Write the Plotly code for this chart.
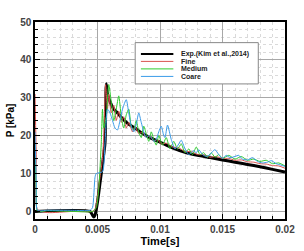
import plotly.graph_objects as go

# ---- data ----
exp_t = [0, 0.0044, 0.0046, 0.0047, 0.0048, 0.0050, 0.0052, 0.0054, 0.0056, 0.0057, 0.0058, 0.0060,
         0.0063, 0.0066, 0.0070, 0.0075, 0.0080, 0.0085, 0.0090, 0.0095, 0.0100, 0.0110, 0.0120,
         0.0130, 0.0140, 0.0150, 0.0160, 0.0170, 0.0180, 0.0190, 0.0200]
exp_p = [0, 0, -1.0, -1.5, -1.0, 2.5, 7.5, 12.5, 18, 33.7, 31, 29,
         27, 26, 24.5, 23, 22, 20.8, 19.8, 19, 18.3, 16.8, 15.6,
         14.8, 14.2, 13.6, 13.0, 12.4, 11.8, 11.1, 10.4]

fine_t = [0, 0.0001, 0.0002, 0.0010, 0.0030, 0.0046, 0.0048, 0.0050, 0.0052, 0.0054, 0.0055, 0.0056,
          0.00565, 0.0058, 0.0059, 0.0061, 0.0063, 0.0065, 0.0067, 0.0069, 0.0071, 0.0073, 0.0075,
          0.0078, 0.0080, 0.0083, 0.0086, 0.0089, 0.0092, 0.0095, 0.0098, 0.0101, 0.0105, 0.0110,
          0.0115, 0.0120, 0.0125, 0.0130, 0.0135, 0.0140, 0.0145, 0.0150, 0.0155, 0.0160, 0.0165,
          0.0170, 0.0175, 0.0180, 0.0185, 0.0190, 0.0195, 0.0200]
fine_p = [31, 15, 0.5, -0.3, 0, 0, 0.5, 4, 9, 14, 20, 30,
          33.5, 27, 31, 26, 28, 24, 26.5, 23.5, 25, 22, 23.5,
          21, 22.5, 20.5, 21, 19.5, 20, 18.5, 19, 17.8, 18, 17,
          16.8, 15.8, 15.8, 15, 15, 14.3, 14.5, 14, 14, 13.5, 13.6,
          13.1, 13, 12.6, 12.5, 12.1, 12, 11.4]

med_t = [0, 0.0001, 0.0002, 0.0010, 0.0030, 0.0046, 0.0049, 0.0051, 0.0053, 0.0054, 0.0055, 0.0057,
         0.0059, 0.0061, 0.0063, 0.0065, 0.0067, 0.0069, 0.0071, 0.0073, 0.0075, 0.0077, 0.0079,
         0.0081, 0.0083, 0.0085, 0.0087, 0.0089, 0.0091, 0.0093, 0.0095, 0.0097, 0.0099, 0.0102,
         0.0105, 0.0108, 0.0111, 0.0114, 0.0117, 0.0120, 0.0123, 0.0126, 0.0129, 0.0132, 0.0135,
         0.0138, 0.0141, 0.0144, 0.0147, 0.0150, 0.0155, 0.0160, 0.0165, 0.0170, 0.0175, 0.0180,
         0.0185, 0.0190, 0.0195, 0.0200]
med_p = [18, 5, 0, 0.2, 0, 0, 1, 6, 18, 27, 22, 25,
         33.5, 29, 24, 27, 30.5, 25, 22, 25.5, 27, 22.5, 21.5,
         24, 21, 19.5, 22.5, 20.5, 18.5, 21, 19, 17.5, 20, 17.5,
         19.5, 16.5, 18.5, 16.5, 17.8, 15.5, 16.5, 15, 17, 15, 15.5,
         14.3, 15.5, 14.3, 15, 14, 14.8, 13.8, 14.5, 13.5, 13.8, 13.2,
         13.5, 12.6, 12.8, 12.0]

coarse_t = [0, 0.0001, 0.0002, 0.0010, 0.0030, 0.0044, 0.0046, 0.0048, 0.0049, 0.0054, 0.0056, 0.0058,
            0.0060, 0.0062, 0.0064, 0.0066, 0.0068, 0.0070, 0.0073, 0.0075, 0.0077, 0.0079, 0.0081,
            0.0083, 0.0085, 0.0087, 0.0089, 0.0091, 0.0093, 0.0095, 0.0097, 0.0099, 0.0101, 0.0103,
            0.0104, 0.0106, 0.0109, 0.0112, 0.0115, 0.0117, 0.0120, 0.0123, 0.0125, 0.0127, 0.0129,
            0.0131, 0.0134, 0.0137, 0.0140, 0.0142, 0.0144, 0.0147, 0.0150, 0.0153, 0.0156, 0.0160,
            0.0163, 0.0166, 0.0170, 0.0174, 0.0178, 0.0182, 0.0186, 0.0189, 0.0193, 0.0197, 0.0200]
coarse_p = [21, 8, 0.3, 0.3, 0.3, 0.3, 1, 9, 10, 10.5, 18, 27,
            26, 24, 22, 21.5, 24, 27, 29.5, 26, 22.5, 21, 23,
            26, 23.5, 21, 19.5, 20, 19.5, 18.5, 19, 21, 22.5, 20,
            19.5, 22.8, 19, 16.5, 17.8, 18.8, 16.5, 15, 15.5, 16, 15.5,
            16.3, 15, 14.5, 15, 15.8, 16.3, 15, 14, 14.8, 14.2, 14.5,
            14.8, 13.8, 13.6, 14.2, 13.2, 12.8, 13, 13.4, 12.6, 12.2, 11.9]

x_ticks = [0, 0.005, 0.01, 0.015, 0.02]
x_tick_labels = ["0", "0.005", "0.01", "0.015", "0.02"]
y_ticks = [0, 10, 20, 30, 40, 50]
series_names = ["Exp.(Kim et al.,2014)", "Fine", "Medium", "Coare"]
series_colors = ["#000000", "#d9534f", "#2ecc2e", "#3a9be8"]
series_widths = [3, 1, 1, 1]

fig = go.Figure()
for t, p, name, c, w in zip([exp_t, fine_t, med_t, coarse_t], [exp_p, fine_p, med_p, coarse_p],
                            series_names, series_colors, series_widths):
    fig.add_trace(go.Scatter(x=t, y=p, mode="lines", name=name,
                             line=dict(color=c, width=w, shape="spline", smoothing=0.6)))

tickfont = dict(family="Liberation Sans, Arial", size=10, color="#444", weight="bold")
axis_common = dict(
    showline=True, linecolor="black", linewidth=1.5, mirror=True,
    ticks="inside", ticklen=5, tickcolor="black", tickwidth=1,
    showgrid=True, gridcolor="#a8a8a8", gridwidth=1, zeroline=False,
    tickfont=tickfont,
)

fig.update_xaxes(range=[0, 0.02], tickvals=x_ticks, ticktext=x_tick_labels,
                 minor=dict(dtick=0.001, showgrid=True, griddash="dot", gridcolor="#dadada",
                            ticks="inside", ticklen=3, tickcolor="black"),
                 title=dict(text="Time[s]", standoff=0,
                            font=dict(family="Liberation Sans, Arial", size=11, color="black", weight="bold")),
                 **axis_common)
fig.update_yaxes(range=[-2, 50], tickvals=y_ticks,
                 minor=dict(dtick=2, showgrid=True, griddash="dot", gridcolor="#dadada",
                            ticks="inside", ticklen=3, tickcolor="black"),
                 title=dict(text="P [kPa]", standoff=4,
                            font=dict(family="Liberation Sans, Arial", size=10, color="black", weight="bold")),
                 **axis_common)

# custom legend box (paper coordinates)
x0, x1 = (138 - 33) / 262, (267 - 33) / 262
y_top, y_bot = (232 - 44) / 210, (232 - 88) / 210
fig.add_shape(type="rect", xref="paper", yref="paper", x0=x0, x1=x1, y0=y_bot, y1=y_top,
              line=dict(color="#888", width=1), fillcolor="white", layer="above")
entry_px = [56, 64, 72, 80]
for py, name, c, w in zip(entry_px, series_names, series_colors, series_widths):
    yy = (232 - py) / 210
    fig.add_shape(type="line", xref="paper", yref="paper",
                  x0=(144 - 33) / 262, x1=(178 - 33) / 262, y0=yy, y1=yy,
                  line=dict(color=c, width=2 if w > 1 else 1), layer="above")
    fig.add_annotation(xref="paper", yref="paper", x=(184 - 33) / 262, y=yy, text=name,
                       showarrow=False, xanchor="left", yanchor="middle",
                       font=dict(family="Liberation Sans, Arial", size=7, color="#222", weight="bold"))

fig.update_layout(width=304, height=251, margin=dict(l=33, r=9, t=22, b=19),
                  plot_bgcolor="white", paper_bgcolor="white", showlegend=False)

fig.write_html("out.html")
